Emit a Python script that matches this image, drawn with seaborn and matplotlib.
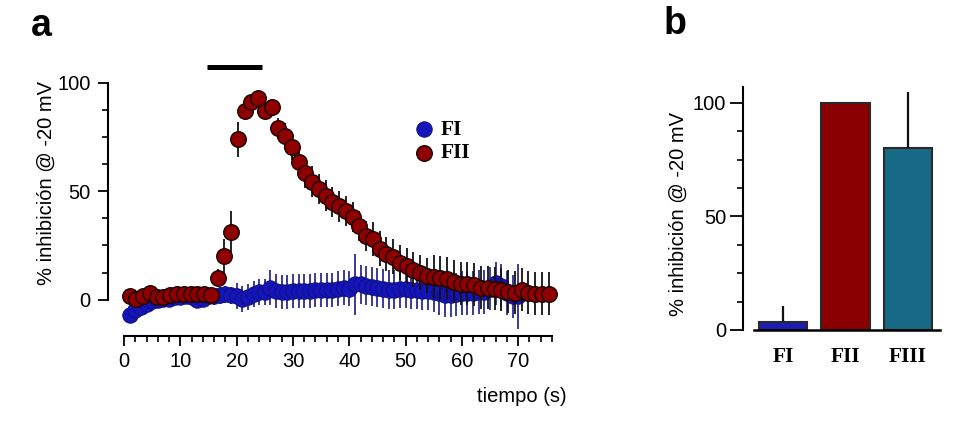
import numpy as np
import pandas as pd
import matplotlib
matplotlib.use("Agg")
import matplotlib.pyplot as plt
from matplotlib.ticker import FixedLocator
import seaborn as sns

# ---------------- data ----------------
# Panel a: time course (s) and % inhibition
fi_time = np.arange(1, 71, 1.0)
fi_val = [-7, -5, -3.5, -2, -0.5, 0, 0.5, 0.5, 1, 1,
          1.5, 1, 0, 0.5, 1.5, 1.5, 2, 2.5, 2, 1.5,
          0.5, 1, 2.5, 3.5, 3.5, 5.5, 4, 3.5, 3.5, 4,
          4, 4, 4, 4.5, 4.5, 4.5, 4.5, 5, 5.5, 5,
          7, 7, 6.5, 6, 5.5, 5, 4.5, 4.5, 5, 5,
          4.5, 4.5, 4, 4, 3.5, 3, 2, 2, 2.5, 3,
          3, 3, 3.5, 3.5, 5, 7.5, 6.5, 3, 1.5, 1.5]
fi_err = [3, 3, 3, 3, 2, 2, 2, 2, 2, 2,
          2, 2, 2, 2, 4, 4, 4, 4, 4, 6,
          6, 6, 6, 6, 6, 8, 8, 8, 8, 8,
          8, 8, 8, 8, 8, 8, 8, 8, 8, 8,
          14, 9, 9, 9, 9, 9, 9, 9, 9, 9,
          9, 9, 9, 9, 9, 10, 10, 10, 10, 10,
          10, 10, 10, 10, 10, 10, 10, 10, 10, 15]

fii_time = 1 + 1.2 * np.arange(63)
fii_val = [1.5, 0.5, 1.5, 3, 1, 1, 2, 2.5, 2.5, 2.5,
           2.5, 2.5, 2, 10, 20, 31, 74, 87, 91, 93,
           87, 89, 79, 75.5, 70.5, 63.5, 58.5, 54.5, 51, 48,
           45, 43, 41, 38, 34, 29.5, 28, 23.5, 21, 19.8,
           17, 15.7, 13.8, 12.4, 11, 10.6, 10, 9.7, 8.3, 7.4,
           7.4, 6.9, 5.5, 5.5, 5, 4.6, 3.7, 3.2, 4.6, 3.2,
           2.7, 2.8, 2.7]
fii_err = [1.5] * 13 + [4, 8, 10, 8, 4, 3, 2, 3, 3, 5, 6, 6] + [7] * 11 + [8] * 9 + [10] * 18

stim_start, stim_end, stim_level = 14.8, 24.5, 107.4

# Panel b: summary bars
cats = ["FI", "FII", "FIII"]
bar_vals = [3.7, 100, 80]
bar_err_up = [7, 0, 25]
bar_colors = ["#1c1cb4", "#8a0000", "#176a86"]

# ---------------- style ----------------
sns.set_style("ticks")
plt.rcParams["font.family"] = ["Liberation Sans", "DejaVu Sans"]
for k in ["text.color", "axes.labelcolor", "xtick.color", "ytick.color", "axes.edgecolor"]:
    plt.rcParams[k] = "black"
serif_bold = dict(family=["Liberation Serif", "DejaVu Serif"], weight="bold", size=15.5)

fig = plt.figure(figsize=(9.62, 4.23), dpi=100)
axA = fig.add_axes([0.1123, 0.2057, 0.4673, 0.6596])
axB = fig.add_axes([0.7723, 0.2199, 0.2053, 0.5742])

# ---------------- panel a ----------------
fi_df = pd.DataFrame({"tiempo": fi_time, "inh": fi_val})
fii_df = pd.DataFrame({"tiempo": fii_time, "inh": fii_val})

axA.errorbar(fi_time, fi_val, yerr=fi_err, fmt="none", ecolor="#2c2c8c",
             elinewidth=1.3, capsize=0, zorder=1)
sns.scatterplot(data=fi_df, x="tiempo", y="inh", color="#1414b8", edgecolor="#10107a",
                linewidth=0.6, s=125, ax=axA, zorder=2, label="FI")
axA.errorbar(fii_time, fii_val, yerr=fii_err, fmt="none", ecolor="#111111",
             elinewidth=1.3, capsize=0, zorder=3)
sns.scatterplot(data=fii_df, x="tiempo", y="inh", color="#8e0000", edgecolor="#1a0000",
                linewidth=1.0, s=125, ax=axA, zorder=4, label="FII")

axA.plot([stim_start, stim_end], [stim_level, stim_level], color="black", lw=3.6,
         solid_capstyle="butt", clip_on=False)

axA.set_xlim(-2.85, 77)
axA.set_ylim(-16.8, 112)
for s in ["top", "right"]:
    axA.spines[s].set_visible(False)
axA.spines["left"].set_bounds(0, 100)
axA.spines["bottom"].set_bounds(0, 76)
axA.spines["left"].set_linewidth(1.5)
axA.spines["bottom"].set_linewidth(1.5)
axA.xaxis.set_major_locator(FixedLocator(np.arange(0, 71, 10)))
axA.xaxis.set_minor_locator(FixedLocator(np.arange(0, 77, 2)))
axA.yaxis.set_major_locator(FixedLocator([0, 50, 100]))
axA.yaxis.set_minor_locator(FixedLocator(np.arange(0, 101, 12.5)))
axA.tick_params(axis="both", which="major", direction="out", length=7.5, width=1.3,
                labelsize=14.5, color="black")
axA.tick_params(axis="both", which="minor", direction="out", length=4.5, width=1.2, color="black")
axA.tick_params(axis="y", which="major", pad=5)
axA.tick_params(axis="x", which="major", pad=4)
axA.set_xlabel("")
axA.set_ylabel("")

leg = axA.legend(loc="center left", bbox_to_anchor=(413 / 962, 1 - 141.5 / 423),
                 bbox_transform=fig.transFigure, frameon=False, prop=serif_bold,
                 handlelength=1.0, handletextpad=0.3, labelspacing=0.15, borderpad=0,
                 borderaxespad=0)

fig.text(567 / 962, 1 - 396 / 423, "tiempo (s)", ha="right", va="center", fontsize=14.5)
fig.text(46 / 962, 1 - 183 / 423, "% inhibición @ -20 mV", rotation=90,
         ha="center", va="center", fontsize=14.5)
fig.text(41 / 962, 1 - 26 / 423, "a", ha="center", va="center", fontsize=27, fontweight="bold")

# ---------------- panel b ----------------
sns.barplot(x=cats, y=bar_vals, hue=cats, palette=bar_colors, saturation=1, width=0.78,
            edgecolor="#2a2a2a", linewidth=1.5, errorbar=None, legend=False,
            ax=axB, zorder=2)
axB.errorbar(np.arange(len(cats)), bar_vals, yerr=[[0] * len(cats), bar_err_up],
             fmt="none", ecolor="#111111", elinewidth=1.6, capsize=0, zorder=3)

axB.set_xlim(-0.64, 2.52)
axB.set_ylim(0, 107)
for s in ["top", "right"]:
    axB.spines[s].set_visible(False)
axB.spines["bottom"].set_bounds(-0.46, 2.51)
axB.spines["left"].set_linewidth(1.5)
axB.spines["bottom"].set_linewidth(1.8)
axB.yaxis.set_major_locator(FixedLocator([0, 50, 100]))
axB.yaxis.set_minor_locator(FixedLocator(np.arange(0, 101, 12.5)))
axB.tick_params(axis="y", which="major", direction="out", length=9.5, width=1.3,
                labelsize=14.5, pad=2.5)
axB.tick_params(axis="y", which="minor", direction="out", length=4.5, width=1.2)
axB.tick_params(axis="x", which="both", length=0, pad=12)
for lbl in axB.get_xticklabels():
    lbl.set_fontproperties(matplotlib.font_manager.FontProperties(**serif_bold))
axB.set_xlabel("")
axB.set_ylabel("")

fig.text(678 / 962, 1 - 214 / 423, "% inhibición @ -20 mV", rotation=90,
         ha="center", va="center", fontsize=14.5)
fig.text(675 / 962, 1 - 24 / 423, "b", ha="center", va="center", fontsize=27, fontweight="bold")

fig.savefig("out.png", dpi=100)
